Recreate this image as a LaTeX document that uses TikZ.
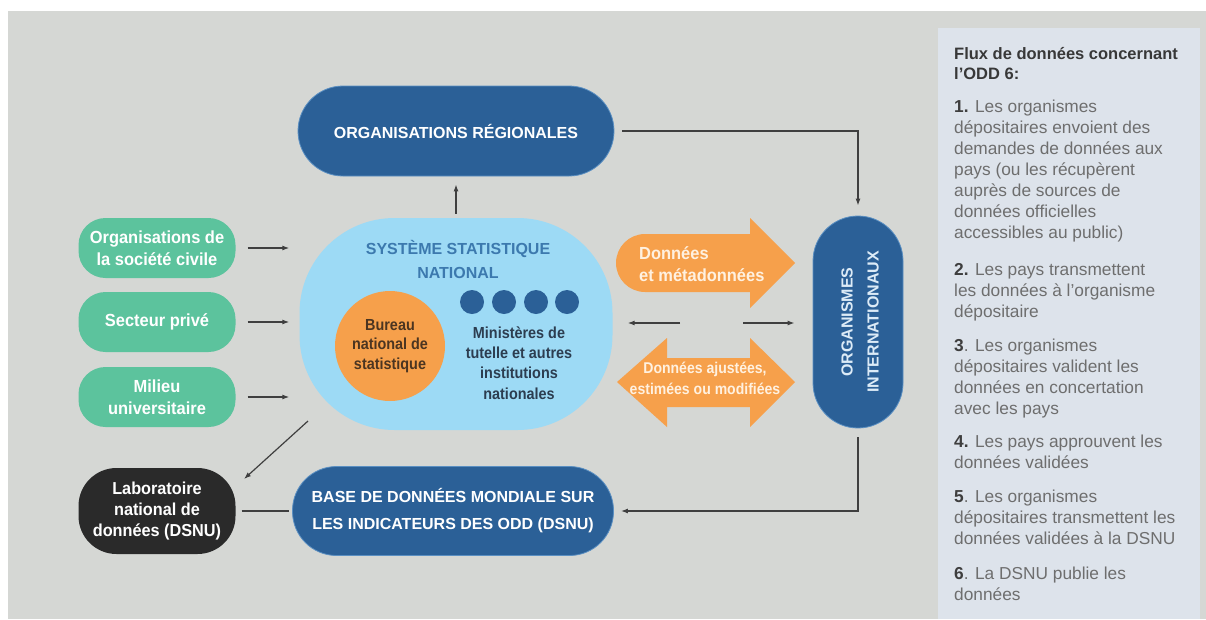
\documentclass[tikz,border=0pt]{standalone}
\usepackage{fontspec}
\setmainfont{Liberation Sans}
\newfontfamily\lblcond[FakeStretch=0.94]{Liberation Sans}
\newfontfamily\lblnarrow[FakeStretch=0.9]{Liberation Sans}
\usetikzlibrary{arrows.meta,calc}
\definecolor{bggray}{HTML}{D5D7D4}
\definecolor{panelc}{HTML}{DDE3EB}
\definecolor{dblue}{HTML}{2B6097}
\definecolor{halo}{HTML}{5A8FC2}
\definecolor{skyc}{HTML}{9DDAF5}
\definecolor{ssntxt}{HTML}{3C79AE}
\definecolor{orangec}{HTML}{F6A04B}
\definecolor{orangetxt}{HTML}{FFF1E0}
\definecolor{brownt}{HTML}{4B3521}
\definecolor{navyt}{HTML}{2C3D50}
\definecolor{mint}{HTML}{5CC39D}
\definecolor{labc}{HTML}{2A2A2A}
\definecolor{linec}{HTML}{3F3F3F}
\definecolor{bodyc}{HTML}{6E6E6E}
\definecolor{numc}{HTML}{3E3E3E}
\definecolor{titlec}{HTML}{383838}
\definecolor{intxt}{HTML}{DCEBF7}
\newcommand\lblcaps{\bfseries\fontsize{16}{27}\selectfont}
\newcommand\lblfont{\lblcond\bfseries\fontsize{17.5}{22}\selectfont}
\newcommand\lblsmall{\lblnarrow\bfseries\fontsize{16}{19.5}\selectfont}
\begin{document}
\begin{tikzpicture}[x=1pt,y=-1pt,
  bluebox/.style={fill=dblue,draw=halo,line width=0.8pt,text=white,font=\lblcaps,align=center,inner sep=0pt},
  greenbox/.style={fill=mint,rounded corners=27pt,minimum width=157pt,minimum height=60pt,text=white,font=\lblfont,align=center,inner sep=0pt},
  arr/.style={draw=linec,line width=1.2pt,-{Latex[length=7pt,width=5pt]}},
  conn/.style={draw=linec,line width=1.2pt},
  orangearrow/.style={fill=orangec},
  paneltext/.style={anchor=base west,inner sep=0pt,font=\fontsize{17.3}{21}\selectfont,text=bodyc},
  dot/.style={circle,fill=dblue,minimum size=24pt,inner sep=0pt}
]
\useasboundingbox (0,0) rectangle (1206,619);
\fill[white] (0,0) rectangle (1206,619);
\fill[bggray] (8,11) rectangle (1206,619);
\fill[panelc] (938,28) rectangle (1200,619);

% main nodes
\node[bluebox,rounded corners=45pt,minimum width=316pt,minimum height=90pt] (orgreg) at (456,131) {ORGANISATIONS RÉGIONALES};
\node[fill=skyc,rounded corners=95pt,minimum width=313pt,minimum height=212pt,inner sep=0pt] (ssn) at (456,324) {};
\node[text=ssntxt,font=\bfseries\fontsize{16}{24}\selectfont,align=center,inner sep=0pt] (ssntitle) at (458,259) {SYSTÈME STATISTIQUE\\NATIONAL};
\node[circle,fill=orangec,minimum size=110pt,inner sep=0pt,text=brownt,font=\lblsmall,align=center] (bns) at (390,346) {Bureau\\national de\\statistique};
\node[dot] (d1) at (472,302) {};
\node[dot] (d2) at (504,302) {};
\node[dot] (d3) at (536,302) {};
\node[dot] (d4) at (567,302) {};
\node[text=navyt,font=\lblnarrow\bfseries\fontsize{16}{20.3}\selectfont,align=center,inner sep=0pt] (min) at (519,363) {Ministères de\\tutelle et autres\\institutions\\nationales};

\node[greenbox] (g1) at (157,248) {Organisations de\\la société civile};
\node[greenbox] (g2) at (157,322) {Secteur privé};
\node[greenbox] (g3) at (157,397) {Milieu\\universitaire};

\node[fill=labc,rounded corners=38pt,minimum width=157pt,minimum height=86pt,text=white,font=\lblcond\bfseries\fontsize{17.3}{21}\selectfont,align=center,inner sep=0pt] (lab) at (157,511) {Laboratoire\\national de\\données (DSNU)};

\node[bluebox,rounded corners=44pt,minimum width=321pt,minimum height=89pt] (base) at (453,511) {BASE DE DONNÉES MONDIALE SUR\\LES INDICATEURS DES ODD (DSNU)};

\node[bluebox,rounded corners=45pt,minimum width=90pt,minimum height=212pt] (orgint) at (858,322) {};
\node[rotate=90,text=intxt,font=\bfseries\fontsize{16}{26}\selectfont,align=center,inner sep=0pt] (orgintlbl) at (860,322) {ORGANISMES\\INTERNATIONAUX};

% orange arrows
\path[orangearrow] (645,234) -- (750,234) -- (750,218) -- (795,263) -- (750,308) -- (750,292) -- (645,292) arc[start angle=90,end angle=270,radius=29] -- cycle;
\node[anchor=west,align=left,text=orangetxt,font=\lblcond\bfseries\fontsize{17.5}{22}\selectfont,inner sep=0pt] (oa1) at (639,264) {Données\\et métadonnées};
\path[orangearrow] (617,382) -- (667,338) -- (667,358) -- (750,358) -- (750,338) -- (795,382) -- (750,427) -- (750,407) -- (667,407) -- (667,427) -- cycle;
\node[align=center,text=orangetxt,font=\lblnarrow\bfseries\fontsize{15.6}{21}\selectfont,inner sep=0pt] (oa2) at (705,378) {Données ajustées,\\estimées ou modifiées};

% connectors
\draw[arr,shorten <=4pt,shorten >=8pt] (ssn.north) -- (orgreg.south);
\draw[arr,shorten <=12pt,shorten >=10pt] (g1.east) -- (g1.east -| ssn.west);
\draw[arr,shorten <=12pt,shorten >=10pt] (g2.east) -- (g2.east -| ssn.west);
\draw[arr,shorten <=12pt,shorten >=10pt] (g3.east) -- (g3.east -| ssn.west);
\coordinate (ssnsw) at (308,421);
\coordinate (labtip) at (244,479);
\draw[arr] (ssnsw) -- (labtip);
\draw[conn,shorten <=6pt,shorten >=3pt] (lab.east) -- (base.west);
\draw[arr,shorten <=8pt,shorten >=10pt] (orgreg.east) -| (orgint.north);
\draw[arr,shorten <=9pt,shorten >=7pt] (orgint.south) |- (base.east);
\coordinate (ml) at (680,323);
\coordinate (mr) at (743,323);
\draw[arr,shorten >=15pt] (ml) -- (ml -| ssn.east);
\draw[arr,shorten >=18pt] (mr) -- (mr -| orgint.west);

% panel
\node[anchor=base west,inner sep=0pt,text=titlec,font=\bfseries\fontsize{16.5}{20}\selectfont,align=left] (ptitle) at (954,59) {Flux de données concernant};
\node[anchor=base west,inner sep=0pt,text=titlec,font=\bfseries\fontsize{16.5}{20}\selectfont] (ptitle2) at (954,79) {l'ODD 6:};
\foreach \py/\ptext [count=\i] in {
 112.5/{\textcolor{numc}{\bfseries 1.} Les organismes},
 133.5/{dépositaires envoient des},
 154.5/{demandes de données aux},
 175.5/{pays (ou les récupèrent},
 196.5/{auprès de sources de},
 217.5/{données officielles},
 238.5/{accessibles au public)},
 275/{\textcolor{numc}{\bfseries 2.} Les pays transmettent},
 296/{les données à l'organisme},
 317/{dépositaire},
 351.5/{\textcolor{numc}{\bfseries 3}. Les organismes},
 372.5/{dépositaires valident les},
 393.5/{données en concertation},
 414.5/{avec les pays},
 447.5/{\textcolor{numc}{\bfseries 4.} Les pays approuvent les},
 468.5/{données validées},
 502.5/{\textcolor{numc}{\bfseries 5}. Les organismes},
 523.5/{dépositaires transmettent les},
 544.5/{données validées à la DSNU},
 579.5/{\textcolor{numc}{\bfseries 6}. La DSNU publie les},
 600.5/{données}}
 \node[paneltext,name=pl\i] at (954,\py) {\ptext};
\end{tikzpicture}
\end{document}
